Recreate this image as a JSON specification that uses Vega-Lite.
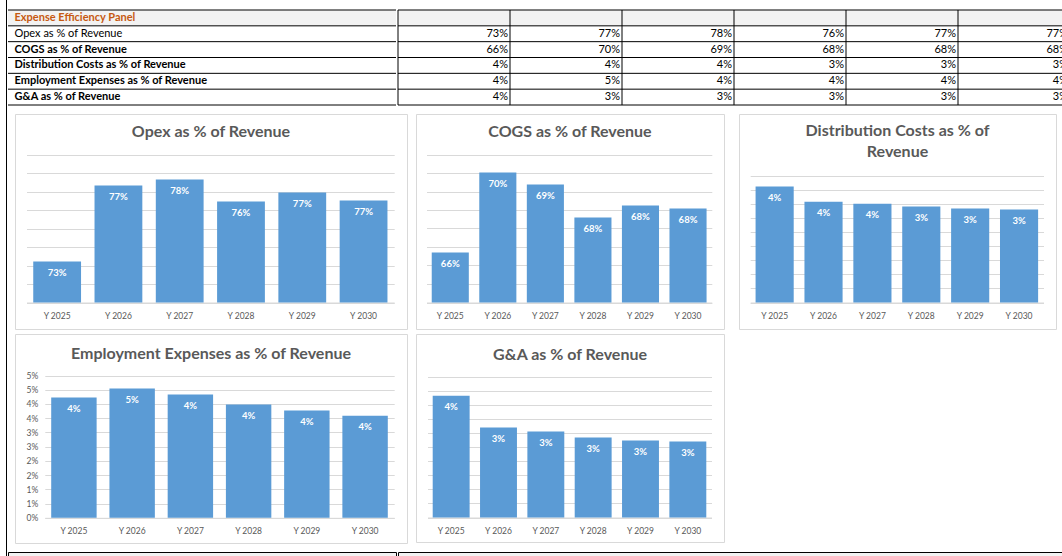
{
  "$schema": "https://vega.github.io/schema/vega-lite/v6.json",
  "background": "#ffffff",
  "padding": {"left": 6, "top": 0, "right": 0, "bottom": 0},
  "config": {
    "font": "Lato",
    "axis": {"labelFont": "Lato", "titleFont": "Lato"},
    "title": {"font": "Lato"}
  },
  "datasets": {
    "rows": [
      {"row": "Expense Efficiency Panel"},
      {"row": "Opex as % of Revenue"},
      {"row": "COGS as % of Revenue"},
      {"row": "Distribution Costs as % of Revenue"},
      {"row": "Employment Expenses as % of Revenue"},
      {"row": "G&A as % of Revenue"}
    ],
    "metrics": [
      {"metric": "Opex as % of Revenue", "year": "Y 2025", "value": 0.7321},
      {"metric": "Opex as % of Revenue", "year": "Y 2026", "value": 0.7732},
      {"metric": "Opex as % of Revenue", "year": "Y 2027", "value": 0.7765},
      {"metric": "Opex as % of Revenue", "year": "Y 2028", "value": 0.7646},
      {"metric": "Opex as % of Revenue", "year": "Y 2029", "value": 0.7695},
      {"metric": "Opex as % of Revenue", "year": "Y 2030", "value": 0.7652},
      {"metric": "COGS as % of Revenue", "year": "Y 2025", "value": 0.657},
      {"metric": "COGS as % of Revenue", "year": "Y 2026", "value": 0.7003},
      {"metric": "COGS as % of Revenue", "year": "Y 2027", "value": 0.6938},
      {"metric": "COGS as % of Revenue", "year": "Y 2028", "value": 0.6759},
      {"metric": "COGS as % of Revenue", "year": "Y 2029", "value": 0.6824},
      {"metric": "COGS as % of Revenue", "year": "Y 2030", "value": 0.6808},
      {"metric": "Distribution Costs as % of Revenue", "year": "Y 2025", "value": 0.0412},
      {"metric": "Distribution Costs as % of Revenue", "year": "Y 2026", "value": 0.0358},
      {"metric": "Distribution Costs as % of Revenue", "year": "Y 2027", "value": 0.0351},
      {"metric": "Distribution Costs as % of Revenue", "year": "Y 2028", "value": 0.0341},
      {"metric": "Distribution Costs as % of Revenue", "year": "Y 2029", "value": 0.0334},
      {"metric": "Distribution Costs as % of Revenue", "year": "Y 2030", "value": 0.033},
      {"metric": "Employment Expenses as % of Revenue", "year": "Y 2025", "value": 0.0423},
      {"metric": "Employment Expenses as % of Revenue", "year": "Y 2026", "value": 0.0454},
      {"metric": "Employment Expenses as % of Revenue", "year": "Y 2027", "value": 0.0433},
      {"metric": "Employment Expenses as % of Revenue", "year": "Y 2028", "value": 0.0398},
      {"metric": "Employment Expenses as % of Revenue", "year": "Y 2029", "value": 0.0377},
      {"metric": "Employment Expenses as % of Revenue", "year": "Y 2030", "value": 0.0359},
      {"metric": "G&A as % of Revenue", "year": "Y 2025", "value": 0.0433},
      {"metric": "G&A as % of Revenue", "year": "Y 2026", "value": 0.032},
      {"metric": "G&A as % of Revenue", "year": "Y 2027", "value": 0.0306},
      {"metric": "G&A as % of Revenue", "year": "Y 2028", "value": 0.0284},
      {"metric": "G&A as % of Revenue", "year": "Y 2029", "value": 0.0274},
      {"metric": "G&A as % of Revenue", "year": "Y 2030", "value": 0.027}
    ]
  },
  "spacing": 0,
  "hconcat": [
    {
      "data": {"values": []},
      "mark": "point",
      "encoding": {},
      "width": 1,
      "height": 556,
      "view": {"stroke": null, "fill": "#000000"}
    },
    {
      "spacing": 7,
      "vconcat": [
        {
          "spacing": 7,
          "vconcat": [
            {
              "spacing": 8,
              "vconcat": [
                {"data": {"values": []}, "mark": "point", "encoding": {}, "width": 1, "height": 1, "view": {"stroke": null}},
                {
                  "spacing": 0,
                  "hconcat": [
                    {
                      "width": 388,
                      "height": 95,
                      "view": {"stroke": null},
                      "data": {"name": "rows"},
                      "layer": [
                        {
                          "transform": [{"filter": "datum.row === 'Expense Efficiency Panel'"}],
                          "mark": {"type": "rect", "color": "#f2f2f2"},
                          "encoding": {
                            "y": {
                              "field": "row", "type": "nominal", "sort": null,
                              "scale": {"domain": ["Expense Efficiency Panel", "Opex as % of Revenue", "COGS as % of Revenue", "Distribution Costs as % of Revenue", "Employment Expenses as % of Revenue", "G&A as % of Revenue"], "paddingInner": 0, "paddingOuter": 0},
                              "axis": {
                                "orient": "left", "offset": -6, "title": null,
                                "domain": false, "ticks": false, "tickSize": 0, "grid": false,
                                "labelPadding": 0, "labelAlign": "left", "labelBaseline": "middle",
                                "labelFontSize": 11, "labelLimit": 400, "zindex": 1,
                                "labelColor": {"condition": {"test": "datum.value === 'Expense Efficiency Panel'", "value": "#c65911"}, "value": "#000000"},
                                "labelFontWeight": {"condition": {"test": "datum.value === 'Opex as % of Revenue'", "value": "normal"}, "value": "bold"},
                                "labelExpr": "datum.value === 'G&A as % of Revenue' ? '\u00a0' + datum.value : datum.value"
                              }
                            }
                          }
                        },
                        {
                          "mark": {"type": "rule", "color": "#000000", "strokeWidth": 1},
                          "encoding": {"y": {"field": "row", "type": "nominal", "sort": null, "bandPosition": 0}}
                        },
                        {
                          "transform": [{"filter": "datum.row === 'G&A as % of Revenue'"}],
                          "mark": {"type": "rule", "color": "#000000", "strokeWidth": 1},
                          "encoding": {"y": {"field": "row", "type": "nominal", "sort": null, "bandPosition": 1}}
                        }
                      ]
                    },
                    {
                      "width": 665,
                      "height": 95,
                      "view": {"stroke": null},
                      "layer": [
                        {
                          "data": {"name": "rows"},
                          "transform": [{"filter": "datum.row === 'Expense Efficiency Panel'"}],
                          "mark": {"type": "rect", "color": "#f2f2f2"},
                          "encoding": {
                            "y": {
                              "field": "row", "type": "nominal", "sort": null, "axis": null,
                              "scale": {"domain": ["Expense Efficiency Panel", "Opex as % of Revenue", "COGS as % of Revenue", "Distribution Costs as % of Revenue", "Employment Expenses as % of Revenue", "G&A as % of Revenue"], "paddingInner": 0, "paddingOuter": 0}
                            }
                          }
                        },
                        {
                          "data": {"name": "rows"},
                          "mark": {"type": "rule", "color": "#000000", "strokeWidth": 1},
                          "encoding": {"y": {"field": "row", "type": "nominal", "sort": null, "bandPosition": 0, "axis": null}}
                        },
                        {
                          "data": {"name": "rows"},
                          "transform": [{"filter": "datum.row === 'G&A as % of Revenue'"}],
                          "mark": {"type": "rule", "color": "#000000", "strokeWidth": 1},
                          "encoding": {"y": {"field": "row", "type": "nominal", "sort": null, "bandPosition": 1, "axis": null}}
                        },
                        {
                          "data": {"name": "metrics"},
                          "transform": [{"filter": "datum.metric === 'Opex as % of Revenue'"}],
                          "mark": {"type": "rule", "color": "#000000", "strokeWidth": 1},
                          "encoding": {
                            "x": {
                              "field": "year", "type": "nominal", "sort": null, "bandPosition": 0, "axis": null,
                              "scale": {"domain": ["Y 2025", "Y 2026", "Y 2027", "Y 2028", "Y 2029", "Y 2030"], "range": [0, 672], "paddingInner": 0, "paddingOuter": 0}
                            }
                          }
                        },
                        {
                          "data": {"name": "metrics"},
                          "mark": {"type": "text", "align": "right", "baseline": "middle", "dx": -2, "fontSize": 11, "color": "#000000", "clip": true},
                          "encoding": {
                            "x": {"field": "year", "type": "nominal", "sort": null, "bandPosition": 1, "axis": null},
                            "y": {"field": "metric", "type": "nominal", "sort": null, "axis": null},
                            "text": {"field": "value", "type": "quantitative", "format": ".0%"}
                          }
                        }
                      ]
                    }
                  ]
                }
              ]
            },
            {
              "spacing": 5,
              "hconcat": [
                {"data": {"values": []}, "mark": "point", "encoding": {}, "width": 1, "height": 1, "view": {"stroke": null}},
                {
                  "spacing": 3,
                  "vconcat": [
                    {
                      "spacing": 7,
                      "hconcat": [
                        {
                          "width": 392,
                          "height": 215,
                          "view": {"stroke": "#d9d9d9", "fill": "#ffffff"},
                          "title": {"text": "Opex as % of Revenue", "offset": 0, "dy": 34.2, "baseline": "middle", "anchor": "middle", "fontSize": 16, "fontWeight": "bold", "color": "#595959"},
                          "data": {"name": "metrics"},
                          "transform": [{"filter": "datum.metric === 'Opex as % of Revenue'"}],
                          "encoding": {
                            "x": {
                              "field": "year", "type": "nominal", "sort": null,
                              "scale": {"range": [11.5, 379.2], "paddingInner": 0.22, "paddingOuter": 0.11},
                              "axis": {"orient": "bottom", "offset": -26.5, "title": null, "labelAngle": 0, "domain": true, "domainColor": "#d9d9d9", "ticks": false, "tickSize": 0, "labelPadding": 9, "labelFontSize": 8.5, "labelColor": "#595959", "grid": false, "labelOverlap": false}
                            },
                            "y": {
                              "field": "value", "type": "quantitative",
                              "scale": {"domain": [0.71, 0.79], "range": [188.5, 40.5], "zero": false, "nice": false},
                              "axis": {"title": null, "values": [0.71, 0.72, 0.73, 0.74, 0.75, 0.76, 0.77, 0.78, 0.79], "labels": false, "ticks": false, "domain": false, "grid": true, "gridColor": "#d9d9d9"}
                            }
                          },
                          "layer": [
                            {"mark": {"type": "bar", "color": "#5b9bd5"}, "encoding": {"y2": {"datum": 0.71}}},
                            {"mark": {"type": "text", "color": "#ffffff", "fontWeight": "bold", "fontSize": 9.5, "baseline": "middle", "dy": 11.5}, "encoding": {"text": {"field": "value", "type": "quantitative", "format": ".0%"}}}
                          ]
                        },
                        {
                          "spacing": 13,
                          "hconcat": [
                            {
                              "width": 308,
                              "height": 215,
                              "view": {"stroke": "#d9d9d9", "fill": "#ffffff"},
                              "title": {"text": "COGS as % of Revenue", "offset": 0, "dy": 34.2, "baseline": "middle", "anchor": "middle", "fontSize": 16, "fontWeight": "bold", "color": "#595959"},
                              "data": {"name": "metrics"},
                              "transform": [{"filter": "datum.metric === 'COGS as % of Revenue'"}],
                              "encoding": {
                                "x": {
                                  "field": "year", "type": "nominal", "sort": null,
                                  "scale": {"range": [10.5, 295.8], "paddingInner": 0.22, "paddingOuter": 0.11},
                                  "axis": {"orient": "bottom", "offset": -26.5, "title": null, "labelAngle": 0, "domain": true, "domainColor": "#d9d9d9", "ticks": false, "tickSize": 0, "labelPadding": 9, "labelFontSize": 8.5, "labelColor": "#595959", "grid": false, "labelOverlap": false}
                                },
                                "y": {
                                  "field": "value", "type": "quantitative",
                                  "scale": {"domain": [0.63, 0.71], "range": [188.5, 40.5], "zero": false, "nice": false},
                                  "axis": {"title": null, "values": [0.63, 0.64, 0.65, 0.66, 0.67, 0.68, 0.69, 0.7, 0.71], "labels": false, "ticks": false, "domain": false, "grid": true, "gridColor": "#d9d9d9"}
                                }
                              },
                              "layer": [
                                {"mark": {"type": "bar", "color": "#5b9bd5"}, "encoding": {"y2": {"datum": 0.63}}},
                                {"mark": {"type": "text", "color": "#ffffff", "fontWeight": "bold", "fontSize": 9.5, "baseline": "middle", "dy": 11.5}, "encoding": {"text": {"field": "value", "type": "quantitative", "format": ".0%"}}}
                              ]
                            },
                            {
                              "width": 317,
                              "height": 215,
                              "view": {"stroke": "#d9d9d9", "fill": "#ffffff"},
                              "title": {"text": ["Distribution Costs as % of", "Revenue"], "offset": 0, "dy": 54.3, "baseline": "middle", "anchor": "middle", "lineHeight": 21, "fontSize": 16, "fontWeight": "bold", "color": "#595959"},
                              "data": {"name": "metrics"},
                              "transform": [{"filter": "datum.metric === 'Distribution Costs as % of Revenue'"}],
                              "encoding": {
                                "x": {
                                  "field": "year", "type": "nominal", "sort": null,
                                  "scale": {"range": [11.2, 304.5], "paddingInner": 0.22, "paddingOuter": 0.11},
                                  "axis": {"orient": "bottom", "offset": -26.5, "title": null, "labelAngle": 0, "domain": true, "domainColor": "#d9d9d9", "ticks": false, "tickSize": 0, "labelPadding": 9, "labelFontSize": 8.5, "labelColor": "#595959", "grid": false, "labelOverlap": false}
                                },
                                "y": {
                                  "field": "value", "type": "quantitative",
                                  "scale": {"domain": [0, 0.045], "range": [188.5, 61.8], "zero": false, "nice": false},
                                  "axis": {"title": null, "values": [0, 0.005, 0.01, 0.015, 0.02, 0.025, 0.03, 0.035, 0.04, 0.045], "labels": false, "ticks": false, "domain": false, "grid": true, "gridColor": "#d9d9d9"}
                                }
                              },
                              "layer": [
                                {"mark": {"type": "bar", "color": "#5b9bd5"}, "encoding": {"y2": {"datum": 0}}},
                                {"mark": {"type": "text", "color": "#ffffff", "fontWeight": "bold", "fontSize": 9.5, "baseline": "middle", "dy": 11.5}, "encoding": {"text": {"field": "value", "type": "quantitative", "format": ".0%"}}}
                              ]
                            }
                          ]
                        }
                      ]
                    },
                    {
                      "spacing": 7,
                      "hconcat": [
                        {
                          "width": 392,
                          "height": 209,
                          "view": {"stroke": "#d9d9d9", "fill": "#ffffff"},
                          "title": {"text": "Employment Expenses as % of Revenue", "offset": 0, "dy": 35.5, "baseline": "middle", "anchor": "middle", "fontSize": 16, "fontWeight": "bold", "color": "#595959"},
                          "data": {"name": "metrics"},
                          "transform": [{"filter": "datum.metric === 'Employment Expenses as % of Revenue'"}],
                          "encoding": {
                            "x": {
                              "field": "year", "type": "nominal", "sort": null,
                              "scale": {"range": [29.8, 379.2], "paddingInner": 0.22, "paddingOuter": 0.11},
                              "axis": {"orient": "bottom", "offset": -25.2, "title": null, "labelAngle": 0, "domain": true, "domainColor": "#d9d9d9", "ticks": false, "tickSize": 0, "labelPadding": 9, "labelFontSize": 8.5, "labelColor": "#595959", "grid": false, "labelOverlap": false}
                            },
                            "y": {
                              "field": "value", "type": "quantitative",
                              "scale": {"domain": [0, 0.05], "range": [183.8, 41.5], "zero": false, "nice": false},
                              "axis": {"orient": "left", "offset": -29.8, "title": null, "values": [0, 0.005, 0.01, 0.015, 0.02, 0.025, 0.03, 0.035, 0.04, 0.045, 0.05], "format": ".0%", "labels": true, "labelPadding": 7, "labelFontSize": 8.5, "labelColor": "#595959", "ticks": false, "tickSize": 0, "domain": false, "grid": true, "gridColor": "#d9d9d9", "labelOverlap": false}
                            }
                          },
                          "layer": [
                            {"mark": {"type": "bar", "color": "#5b9bd5"}, "encoding": {"y2": {"datum": 0}}},
                            {"mark": {"type": "text", "color": "#ffffff", "fontWeight": "bold", "fontSize": 9.5, "baseline": "middle", "dy": 11.5}, "encoding": {"text": {"field": "value", "type": "quantitative", "format": ".0%"}}}
                          ]
                        },
                        {
                          "width": 308,
                          "height": 208,
                          "view": {"stroke": "#d9d9d9", "fill": "#ffffff"},
                          "title": {"text": "G&A as % of Revenue", "offset": 0, "dy": 36.5, "baseline": "middle", "anchor": "middle", "fontSize": 16, "fontWeight": "bold", "color": "#595959"},
                          "data": {"name": "metrics"},
                          "transform": [{"filter": "datum.metric === 'G&A as % of Revenue'"}],
                          "encoding": {
                            "x": {
                              "field": "year", "type": "nominal", "sort": null,
                              "scale": {"range": [11.5, 295.5], "paddingInner": 0.22, "paddingOuter": 0.11},
                              "axis": {"orient": "bottom", "offset": -24.5, "title": null, "labelAngle": 0, "domain": true, "domainColor": "#d9d9d9", "ticks": false, "tickSize": 0, "labelPadding": 9, "labelFontSize": 8.5, "labelColor": "#595959", "grid": false, "labelOverlap": false}
                            },
                            "y": {
                              "field": "value", "type": "quantitative",
                              "scale": {"domain": [0, 0.05], "range": [183.5, 42.8], "zero": false, "nice": false},
                              "axis": {"title": null, "values": [0, 0.005, 0.01, 0.015, 0.02, 0.025, 0.03, 0.035, 0.04, 0.045, 0.05], "labels": false, "ticks": false, "domain": false, "grid": true, "gridColor": "#d9d9d9"}
                            }
                          },
                          "layer": [
                            {"mark": {"type": "bar", "color": "#5b9bd5"}, "encoding": {"y2": {"datum": 0}}},
                            {"mark": {"type": "text", "color": "#ffffff", "fontWeight": "bold", "fontSize": 9.5, "baseline": "middle", "dy": 11.5}, "encoding": {"text": {"field": "value", "type": "quantitative", "format": ".0%"}}}
                          ]
                        }
                      ]
                    }
                  ]
                }
              ]
            }
          ]
        },
        {
          "spacing": 0,
          "hconcat": [
            {"data": {"values": []}, "mark": "point", "encoding": {}, "width": 388, "height": 8, "view": {"stroke": "#000000", "fill": "#f2f2f2"}},
            {"data": {"values": []}, "mark": "point", "encoding": {}, "width": 680, "height": 8, "view": {"stroke": "#000000", "fill": "#f2f2f2"}}
          ]
        }
      ]
    }
  ]
}
